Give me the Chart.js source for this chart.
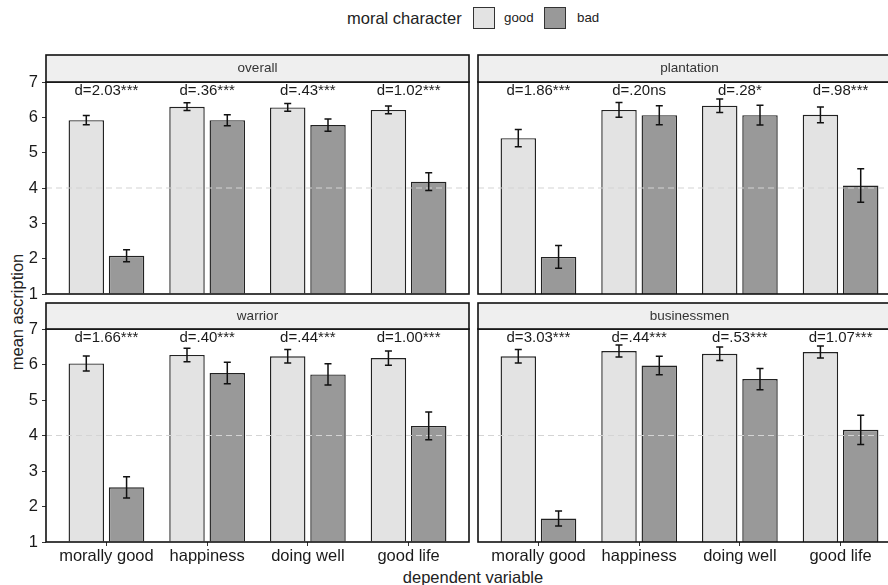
<!DOCTYPE html>
<html>
<head>
<meta charset="utf-8">
<script src="https://cdn.jsdelivr.net/npm/chart.js@4.4.1/dist/chart.umd.min.js"></script>
<style>
html, body { margin: 0; padding: 0; background: #fff; overflow: hidden; width: 888px; height: 585px; }
body { position: relative; font-family: "Liberation Sans", Arial, Helvetica, sans-serif; color: #222; }
canvas { position: absolute; }
.txt { position: absolute; white-space: nowrap; line-height: 1; }
.box { position: absolute; width: 20px; height: 20px; border: 1.5px solid #333; }
</style>
</head>
<body>
<div class="txt" style="left:347px;top:18px;font-size:16.5px;transform:translateY(-50%)">moral character</div>
<div class="box" style="left:473px;top:7px;background:#e3e3e3"></div>
<div class="txt" style="left:504px;top:18px;font-size:13.3px;transform:translateY(-50%)">good</div>
<div class="box" style="left:544px;top:7px;background:#999999"></div>
<div class="txt" style="left:577px;top:18px;font-size:13.3px;transform:translateY(-50%)">bad</div>

<div class="txt" style="left:17px;top:312px;font-size:16.5px;transform:translate(-50%,-50%) rotate(-90deg)">mean ascription</div>
<div class="txt" style="left:473px;top:577px;font-size:16.5px;transform:translate(-50%,-50%)">dependent variable</div>

<canvas id="tl" width="474" height="262" style="left:0;top:50px"></canvas>
<canvas id="tr" width="432" height="262" style="left:474px;top:50px"></canvas>
<canvas id="bl" width="474" height="287" style="left:0;top:298px"></canvas>
<canvas id="br" width="432" height="287" style="left:474px;top:298px"></canvas>

<script>
const categories = ['morally good', 'happiness', 'doing well', 'good life'];
const yTicks = [1, 2, 3, 4, 5, 6, 7];

const overallGood = [5.92, 6.30, 6.28, 6.21];
const overallGoodErr = [0.13, 0.11, 0.11, 0.11];
const overallBad = [2.08, 5.92, 5.78, 4.18];
const overallBadErr = [0.17, 0.155, 0.175, 0.25];
const overallD = ['d=2.03***', 'd=.36***', 'd=.43***', 'd=1.02***'];

const plantationGood = [5.41, 6.21, 6.33, 6.07];
const plantationGoodErr = [0.245, 0.21, 0.19, 0.22];
const plantationBad = [2.05, 6.06, 6.06, 4.07];
const plantationBadErr = [0.32, 0.27, 0.28, 0.475];
const plantationD = ['d=1.86***', 'd=.20ns', 'd=.28*', 'd=.98***'];

const warriorGood = [6.03, 6.27, 6.23, 6.18];
const warriorGoodErr = [0.21, 0.19, 0.19, 0.20];
const warriorBad = [2.54, 5.76, 5.72, 4.27];
const warriorBadErr = [0.30, 0.30, 0.30, 0.39];
const warriorD = ['d=1.66***', 'd=.40***', 'd=.44***', 'd=1.00***'];

const businessGood = [6.23, 6.38, 6.30, 6.35];
const businessGoodErr = [0.19, 0.17, 0.19, 0.17];
const businessBad = [1.66, 5.97, 5.59, 4.16];
const businessBadErr = [0.21, 0.26, 0.30, 0.41];
const businessD = ['d=3.03***', 'd=.44***', 'd=.53***', 'd=1.07***'];

const FONT = '"Liberation Sans", Arial, Helvetica, sans-serif';

// strip, border, dashed reference line, error bars and d-labels
const panelDeco = {
    id: 'panelDeco',
    afterDatasetsDraw(chart, args, opts) {
        const c = chart.ctx;
        const a = chart.chartArea;
        const ys = chart.scales.y;
        const xs = chart.scales.x;
        c.save();

        // reference line at 4
        const y4 = ys.getPixelForValue(4);
        c.strokeStyle = '#d4d4d4';
        c.lineWidth = 1.2;
        c.setLineDash([6, 4]);
        c.beginPath();
        c.moveTo(a.left, y4);
        c.lineTo(a.right, y4);
        c.stroke();
        c.setLineDash([]);

        // error bars
        c.strokeStyle = '#111';
        c.lineWidth = 1.5;
        opts.errs.forEach((errs, di) => {
            const meta = chart.getDatasetMeta(di);
            const vals = chart.data.datasets[di].data;
            meta.data.forEach((bar, i) => {
                const v = vals[i].y;
                const top = ys.getPixelForValue(v + errs[i]);
                const bot = ys.getPixelForValue(v - errs[i]);
                c.beginPath();
                c.moveTo(bar.x, top); c.lineTo(bar.x, bot);
                c.moveTo(bar.x - 3.5, top); c.lineTo(bar.x + 3.5, top);
                c.moveTo(bar.x - 3.5, bot); c.lineTo(bar.x + 3.5, bot);
                c.stroke();
            });
        });

        // d labels
        c.fillStyle = '#1a1a1a';
        c.font = '15px ' + FONT;
        c.textAlign = 'center';
        c.textBaseline = 'middle';
        opts.dLabels.forEach((t, i) => {
            c.fillText(t, xs.getPixelForValue(i), ys.getPixelForValue(6.75));
        });

        // panel border
        c.strokeStyle = '#111';
        c.lineWidth = 1.6;
        c.strokeRect(a.left, a.top, a.right - a.left, a.bottom - a.top);

        // strip
        const sh = opts.stripH;
        c.fillStyle = '#efefef';
        c.fillRect(a.left, a.top - sh, a.right - a.left, sh);
        c.strokeRect(a.left, a.top - sh, a.right - a.left, sh);
        c.fillStyle = '#333';
        c.font = '13.5px ' + FONT;
        c.fillText(opts.title, (a.left + a.right) / 2, a.top - sh / 2);

        c.restore();
    }
};

function makePanel(id, title, good, goodErr, bad, badErr, dLabels, showY, showX, padding, stripH) {
    new Chart(document.getElementById(id), {
        type: 'bar',
        data: {
            datasets: [
                {
                    label: 'good',
                    data: good.map((v, i) => ({ x: i, y: v })),
                    backgroundColor: '#e3e3e3',
                    borderColor: '#222',
                    borderWidth: 1.4,
                    base: 1
                },
                {
                    label: 'bad',
                    data: bad.map((v, i) => ({ x: i, y: v })),
                    backgroundColor: '#999999',
                    borderColor: '#222',
                    borderWidth: 1.4,
                    base: 1
                }
            ]
        },
        options: {
            responsive: false,
            animation: false,
            devicePixelRatio: 1,
            categoryPercentage: 0.8,
            barPercentage: 0.88,
            layout: { padding: padding },
            plugins: {
                legend: { display: false },
                tooltip: { enabled: false },
                panelDeco: { title: title, errs: [goodErr, badErr], dLabels: dLabels, stripH: stripH }
            },
            scales: {
                x: {
                    type: 'linear',
                    min: -0.6,
                    max: 3.6,
                    offset: false,
                    display: showX,
                    afterBuildTicks: s => { s.ticks = categories.map((c, i) => ({ value: i })); },
                    afterFit: s => {
                        s.height = showX ? 43 : 0;
                        s.paddingLeft = 0;
                        s.paddingRight = 0;
                    },
                    grid: { offset: false, drawOnChartArea: false, drawTicks: true, tickLength: 4, color: '#333', lineWidth: 1 },
                    border: { display: false },
                    ticks: {
                        autoSkip: false,
                        maxRotation: 0,
                        minRotation: 0,
                        padding: 1,
                        color: '#1a1a1a',
                        font: { family: FONT, size: 16.5 },
                        callback: v => categories[v]
                    }
                },
                y: {
                    min: 1,
                    max: 7,
                    display: showY,
                    afterBuildTicks: s => { s.ticks = yTicks.map(v => ({ value: v })); },
                    afterFit: s => {
                        s.width = showY ? 46 : 0;
                        s.paddingTop = 0;
                        s.paddingBottom = 0;
                    },
                    grid: { drawOnChartArea: false, drawTicks: true, tickLength: 4, color: '#333', lineWidth: 1 },
                    border: { display: false },
                    ticks: {
                        padding: 4,
                        color: '#1a1a1a',
                        font: { family: FONT, size: 16.5 }
                    }
                }
            }
        },
        plugins: [panelDeco]
    });
}

makePanel('tl', 'overall', overallGood, overallGoodErr, overallBad, overallBadErr, overallD,
    true, false, { top: 32, bottom: 18, left: 0, right: 5 }, 27);
makePanel('tr', 'plantation', plantationGood, plantationGoodErr, plantationBad, plantationBadErr, plantationD,
    false, false, { top: 32, bottom: 18, left: 4, right: 5 }, 27);
makePanel('bl', 'warrior', warriorGood, warriorGoodErr, warriorBad, warriorBadErr, warriorD,
    true, true, { top: 31, bottom: 0, left: 0, right: 5 }, 26);
makePanel('br', 'businessmen', businessGood, businessGoodErr, businessBad, businessBadErr, businessD,
    false, true, { top: 31, bottom: 0, left: 4, right: 5 }, 26);
</script>
</body>
</html>
